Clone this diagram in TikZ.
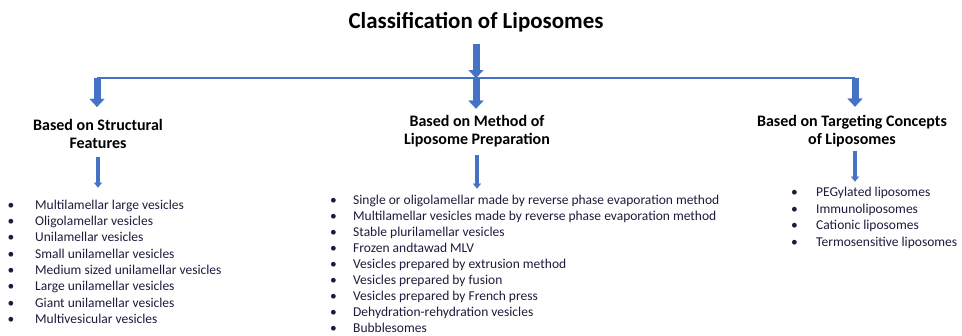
\documentclass[tikz,border=0pt]{standalone}
\usepackage{fontspec}
\setmainfont{Carlito}
\usetikzlibrary{arrows.meta}

\definecolor{arrowblue}{RGB}{68,114,196}
\definecolor{itemcol}{RGB}{28,28,60}

\begin{document}
\begin{tikzpicture}[x=1pt,y=1pt,yscale=-1,xscale=1,
  bigarrow/.style={draw=arrowblue,line width=7pt,-{Triangle[width=15pt,length=8pt,line width=0.1pt]}},
  thinarrow/.style={draw=arrowblue,line width=3.5pt,-{Triangle[width=8pt,length=5pt,line width=0.1pt]}},
  hline/.style={draw=arrowblue,line width=1.4pt},
  headtext/.style={font=\fontsize{16}{18.5}\selectfont\bfseries,align=center,inner sep=0pt},
  itemlist/.style={font=\fontsize{13.5}{16.3}\selectfont,text=itemcol,anchor=north west,inner sep=0pt}]

\useasboundingbox (0,0) rectangle (962,335);

% Text Node
\draw (476,22.5) node [font=\fontsize{22.9}{26}\selectfont\bfseries,inner sep=0pt] (title) {Classification of Liposomes};

\coordinate (hub) at (476,78);
\coordinate (hubL) at (97,78);
\coordinate (hubR) at (855,78);

% Text Node
\draw (98,134) node [headtext] (struct) {Based on Structural\\Features};
% Text Node
\draw (477,131) node [headtext] (method) {Based on Method of\\Liposome Preparation};
% Text Node
\draw (852,131) node [headtext] (target) {Based on Targeting Concepts\\of Liposomes};

%Straight Lines
\draw [bigarrow,shorten <=11pt] (title) -- (hub);
\draw [hline] (hubL) -- (hubR);
\draw [bigarrow,shorten >=12pt] (hubL) -- (hubL |- struct.north);
\draw [bigarrow,shorten >=6pt] (hub) -- (hub |- method.north);
\draw [bigarrow,shorten >=8pt] (hubR) -- (hubR |- target.north);

% Text Node
\draw (7.5,197.6) node [itemlist] (structlist) {\begin{tabular}{@{}p{27.5pt}@{}l@{}}
\textbullet & Multilamellar large vesicles\\
\textbullet & Oligolamellar vesicles\\
\textbullet & Unilamellar vesicles\\
\textbullet & Small unilamellar vesicles\\
\textbullet & Medium sized unilamellar vesicles\\
\textbullet & Large unilamellar vesicles\\
\textbullet & Giant unilamellar vesicles\\
\textbullet & Multivesicular vesicles
\end{tabular}};
% Text Node
\draw (330,192.6) node [itemlist,font=\fontsize{13.5}{16.1}\selectfont] (methodlist) {\begin{tabular}{@{}p{23pt}@{}l@{}}
\textbullet & Single or oligolamellar made by reverse phase evaporation method\\
\textbullet & Multilamellar vesicles made by reverse phase evaporation method\\
\textbullet & Stable plurilamellar vesicles\\
\textbullet & Frozen andtawad MLV\\
\textbullet & Vesicles prepared by extrusion method\\
\textbullet & Vesicles prepared by fusion\\
\textbullet & Vesicles prepared by French press\\
\textbullet & Dehydration-rehydration vesicles\\
\textbullet & Bubblesomes
\end{tabular}};
% Text Node
\draw (791,184.6) node [itemlist,font=\fontsize{13.5}{16.6}\selectfont] (targetlist) {\begin{tabular}{@{}p{25pt}@{}l@{}}
\textbullet & PEGylated liposomes\\
\textbullet & Immunoliposomes\\
\textbullet & Cationic liposomes\\
\textbullet & Termosensitive liposomes
\end{tabular}};

%Straight Lines
\draw [thinarrow,shorten <=8pt,shorten >=10pt] (struct.south) -- (struct.south |- structlist.north);
\draw [thinarrow,shorten <=8pt,shorten >=4pt] (method.south) -- (method.south |- methodlist.north);
\draw [thinarrow,shorten <=4pt,shorten >=3pt] (target.south -| hubR) -- (hubR |- targetlist.north);

\end{tikzpicture}
\end{document}
